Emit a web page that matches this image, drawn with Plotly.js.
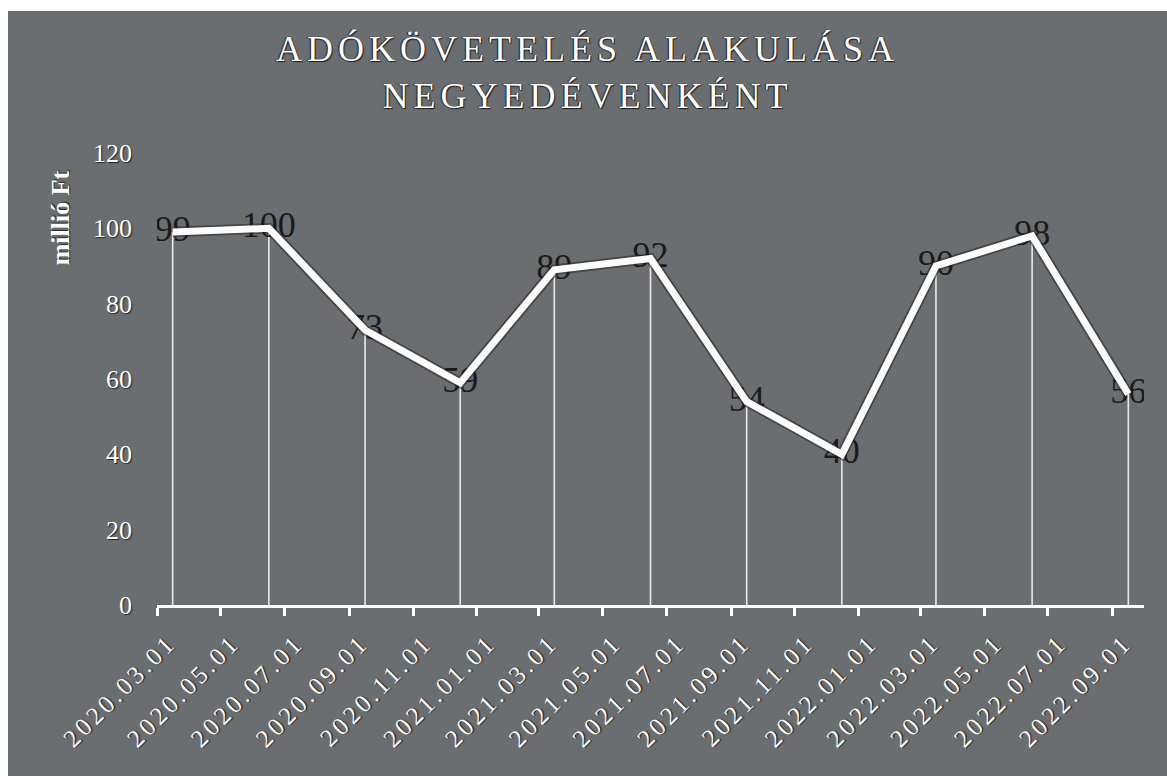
<!DOCTYPE html>
<html>
<head>
<meta charset="utf-8">
<script src="https://cdn.plot.ly/plotly-3.0.1.min.js"></script>
<style>
  html, body { margin: 0; padding: 0; background: #ffffff; }
  #chart { position: absolute; left: 8px; top: 11px; width: 1159px; height: 765px; }
  #chart .gtitle { letter-spacing: 5px; }
  #chart .xtick text { letter-spacing: 3.5px; }
</style>
</head>
<body>
<div id="chart"></div>
<script>
// Quarterly tax claims (million HUF), plotted at the middle of each quarter-end month
const quarterDates = ["2020-03-16", "2020-06-16", "2020-09-16", "2020-12-16",
                      "2021-03-16", "2021-06-16", "2021-09-16", "2021-12-16",
                      "2022-03-16", "2022-06-16", "2022-09-16"];
const claimValues = [99, 100, 73, 59, 89, 92, 54, 40, 90, 98, 56];
const yTicks = [0, 20, 40, 60, 80, 100, 120];
const titleText = "ADÓKÖVETELÉS ALAKULÁSA<br>NEGYEDÉVENKÉNT";
const yTitleText = "millió Ft";

const serif = "Liberation Serif, Times New Roman, serif";
const zeros = claimValues.map(() => 0);

const traces = [
  { // data labels + drop lines
    x: quarterDates, y: claimValues, type: "scatter", mode: "text",
    text: claimValues.map(String), textposition: "middle center",
    textfont: { family: serif, size: 36, color: "#1a1a1a" },
    error_y: { type: "data", symmetric: false, array: zeros, arrayminus: claimValues,
               width: 0, thickness: 1.6, color: "rgba(255,255,255,0.85)" },
    hoverinfo: "skip", showlegend: false
  },
  { // dark outline of the line
    x: quarterDates, y: claimValues, type: "scatter", mode: "lines",
    line: { color: "rgba(35,35,35,0.55)", width: 10.5 },
    hoverinfo: "skip", showlegend: false
  },
  { // white line
    x: quarterDates, y: claimValues, type: "scatter", mode: "lines",
    line: { color: "#fbfbfb", width: 7 },
    showlegend: false
  }
];

const layout = {
  width: 1159, height: 765,
  paper_bgcolor: "#6b6e70", plot_bgcolor: "rgba(0,0,0,0)",
  margin: { l: 149, r: 23, t: 142, b: 171 },
  title: {
    text: titleText, x: 0.5, xanchor: "center", xref: "container",
    y: 0.935, yanchor: "top", yref: "container",
    font: { family: serif, size: 36, color: "#ffffff", shadow: "1px 1px 1px #1a1a1a, -1px 0px 1px #1a1a1a" }
  },
  xaxis: {
    type: "date", range: ["2020-03-01", "2022-10-01"],
    tick0: "2020-03-01", dtick: "M2", tickformat: "%Y.%m.%d",
    tickangle: -45, showgrid: false, zeroline: false,
    showline: true, linecolor: "#ffffff", linewidth: 3,
    ticks: "outside", ticklen: 8, tickwidth: 3, tickcolor: "#ffffff",
    ticklabelstandoff: 2, ticklabelshift: 12,
    tickfont: { family: serif, size: 25, color: "#ffffff", shadow: "1px 1px 1px #222" },
    fixedrange: true
  },
  yaxis: {
    range: [0, 120], tickvals: yTicks, ticktext: yTicks.map(String),
    showgrid: false, zeroline: false, showline: false, ticks: "",
    ticklabelstandoff: 24,
    tickfont: { family: serif, size: 26, color: "#ffffff", shadow: "1px 1px 1px #222" },
    fixedrange: true
  },
  annotations: [{
    text: yTitleText, xref: "paper", yref: "paper",
    x: -0.098, y: 0.856, xanchor: "center", yanchor: "middle",
    textangle: -90, showarrow: false,
    font: { family: serif, size: 26, color: "#ffffff", weight: "bold", shadow: "1px 1px 1px #222" }
  }],
  showlegend: false
};

Plotly.newPlot("chart", traces, layout, { displayModeBar: false, staticPlot: true });
</script>
</body>
</html>
